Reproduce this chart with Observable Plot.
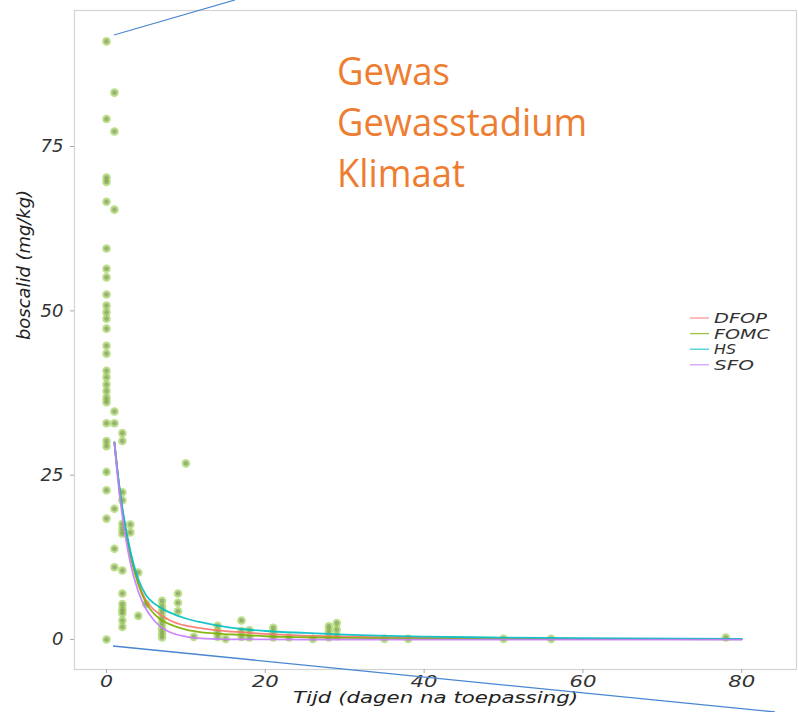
<!DOCTYPE html>
<html>
<head>
<meta charset="utf-8">
<script src="https://cdn.jsdelivr.net/npm/d3@7"></script>
<script src="https://cdn.jsdelivr.net/npm/@observablehq/plot@0.6"></script>
<style>
  html, body { margin: 0; padding: 0; background: #fff; }
  #wrap { position: relative; width: 798px; height: 712px; overflow: hidden; }
  #wrap > svg { position: absolute; left: 0; top: 0; }
</style>
</head>
<body>
<div id="wrap"></div>
<script>
// ---------- data ----------
const xTicks = [0, 20, 40, 60, 80];
const yTicks = [0, 25, 50, 75];
const xLabel = "Tijd (dagen na toepassing)";
const yLabel = "boscalid (mg/kg)";
const titleLines = ["Gewas", "Gewasstadium", "Klimaat"];

const models = ["DFOP", "FOMC", "HS", "SFO"];
const modelColors = ["#F8766D", "#7CAE00", "#00BFC4", "#C77CFF"];

// observed residues, grouped by sampling day
const obsDays = [0, 1, 2, 3, 4, 5, 7, 9, 10, 11, 14, 15, 17, 18, 21, 23, 26, 28, 29, 35, 38, 50, 56, 78];
const obsValuesByDay = [
  [91, 79.2, 70.3, 69.6, 66.6, 59.5, 56.4, 55.1, 52.5, 50.8, 49.8, 48.8, 47.3, 44.7, 43.5, 40.9, 39.9, 38.8, 37.8, 36.8, 36.1, 32.9, 30.2, 29.4, 25.5, 22.7, 18.4, 0],
  [83.2, 77.3, 65.4, 34.7, 32.9, 19.9, 13.8, 11.0],
  [31.4, 30.2, 22.4, 21.2, 17.6, 16.8, 16.1, 10.5, 7.0, 5.4, 4.6, 4.0, 2.9, 1.9],
  [17.5, 16.3],
  [10.2, 3.6],
  [5.4],
  [5.9, 5.0, 4.2, 3.3, 2.5, 1.7, 1.0, 0.3],
  [7.0, 5.6, 4.3],
  [26.8],
  [0.4],
  [2.1, 1.2, 0.4],
  [0.1],
  [2.9, 1.3, 0.4],
  [1.4, 0.3],
  [1.8, 1.0, 0.3],
  [0.3],
  [0.1],
  [2.0, 1.2, 0.3],
  [2.5, 1.5, 0.5],
  [0.1],
  [0.1],
  [0.1],
  [0.1],
  [0.3]
];

// fitted kinetic model curves
const fitDays = [1, 1.5, 2, 3, 4, 5, 6, 7, 8, 10, 12, 14, 17, 20, 25, 30, 40, 50, 60, 80];
const fitDFOP = [30, 24.3, 19.7, 13.0, 8.7, 5.9, 4.5, 3.6, 2.9, 2.1, 1.7, 1.4, 1.1, 0.85, 0.6, 0.45, 0.25, 0.15, 0.1, 0.05];
const fitFOMC = [30, 24.2, 19.6, 12.8, 8.4, 5.5, 3.9, 2.9, 2.3, 1.5, 1.1, 0.9, 0.7, 0.5, 0.35, 0.25, 0.15, 0.1, 0.07, 0.04];
const fitHS   = [30, 24.5, 20.0, 13.5, 9.2, 6.7, 5.5, 4.7, 4.1, 3.2, 2.6, 2.1, 1.6, 1.3, 1.0, 0.75, 0.45, 0.3, 0.2, 0.1];
const fitSFO  = [30, 23.7, 18.8, 11.7, 7.3, 4.6, 2.9, 1.8, 1.1, 0.45, 0.17, 0.07, 0.02, 0.01, 0, 0, 0, 0, 0, 0];

// ---------- build tables ----------
const obs = [];
obsDays.forEach((d, i) => obsValuesByDay[i].forEach(v => obs.push({t: d, v})));
const fitSeries = [fitDFOP, fitFOMC, fitHS, fitSFO];
const fits = [];
models.forEach((m, j) => fitDays.forEach((t, i) => fits.push({model: m, t, v: fitSeries[j][i]})));

const chart = Plot.plot({
  width: 798,
  height: 712,
  marginLeft: 74,
  marginRight: 2,
  marginTop: 10,
  marginBottom: 43,
  x: {domain: [-4.03, 86.9]},
  y: {domain: [-4.56, 95.7]},
  color: {domain: models, range: modelColors},
  style: {fontFamily: "'DejaVu Sans', sans-serif", fontStyle: "italic", color: "#333", background: "transparent"},
  marks: [
    Plot.frame({stroke: "#d4d4d4", strokeWidth: 1.2}),
    Plot.axisX({ticks: xTicks, tickSize: 4, tickPadding: 3, label: null, fontSize: 15, stroke: "#aaa", fill: "#333"}),
    Plot.axisY({ticks: yTicks, tickSize: 4, tickPadding: 7, label: null, fontSize: 18, stroke: "#aaa", fill: "#333"}),
    Plot.dot(obs, {x: "t", y: "v", r: 4.3, fill: "#8fca3c", fillOpacity: 0.6}),
    Plot.dot(obs, {x: "t", y: "v", r: 2.3, fill: "#6e7a5c", fillOpacity: 0.45}),
    Plot.line(fits, {x: "t", y: "v", stroke: "model", z: "model", curve: "monotone-x", strokeWidth: 1.8, strokeOpacity: 0.9}),
    Plot.text([xLabel], {frameAnchor: "bottom", dy: 33, fontSize: 15, fill: "#222", text: d => d}),
    Plot.text([yLabel], {frameAnchor: "left", dx: -50, rotate: -90, fontSize: 17, fill: "#222", text: d => d})
  ]
});
const wrap = document.getElementById("wrap");
wrap.appendChild(chart);

// stretch texts to the reference widths
chart.querySelectorAll("text").forEach(el => {
  const s = el.textContent;
  let len = null;
  if (s === xLabel) len = 285;
  else if (s === yLabel) len = 150;
  else if (/^\d+$/.test(s)) {
    const g = el.parentNode;
    const lab = (g && g.getAttribute && g.getAttribute("aria-label")) || "";
    if (lab.indexOf("x-axis") >= 0) len = s.length === 1 ? 13 : 27;
  }
  if (len) { el.setAttribute("textLength", len); el.setAttribute("lengthAdjust", "spacingAndGlyphs"); }
});

// ---------- overlay: legend, title, callout lines ----------
const ns = "http://www.w3.org/2000/svg";
const ov = document.createElementNS(ns, "svg");
ov.setAttribute("width", 798); ov.setAttribute("height", 712);
ov.style.position = "absolute"; ov.style.left = "0"; ov.style.top = "0"; ov.style.pointerEvents = "none";
wrap.appendChild(ov);
function el(tag, attrs, text) {
  const e = document.createElementNS(ns, tag);
  for (const k in attrs) e.setAttribute(k, attrs[k]);
  if (text != null) e.textContent = text;
  ov.appendChild(e);
  return e;
}
// legend
const legendWidths = [53, 56, 22, 40];
models.forEach((m, i) => {
  const cy = 318 + i * 15.6;
  el("line", {x1: 690, x2: 709, y1: cy, y2: cy, stroke: modelColors[i], "stroke-width": 1.3, "stroke-opacity": 0.75});
  el("text", {x: 714, y: cy + 5, "font-family": "DejaVu Sans", "font-style": "italic", "font-size": 14, fill: "#333",
    textLength: legendWidths[i], lengthAdjust: "spacingAndGlyphs"}, m);
});
// title
const titleWidths = [113, 250, 128];
titleLines.forEach((s, i) => {
  el("text", {x: 337, y: 85 + i * 51, "font-family": "Open Sans", "font-size": 38, fill: "#ED7D31",
    textLength: titleWidths[i], lengthAdjust: "spacingAndGlyphs"}, s);
});
// callout lines
el("line", {x1: 114, y1: 35, x2: 235, y2: 0, stroke: "#4a86d0", "stroke-width": 1.3});
el("line", {x1: 113, y1: 646, x2: 775, y2: 712, stroke: "#4a86d0", "stroke-width": 1.3});
</script>
</body>
</html>
